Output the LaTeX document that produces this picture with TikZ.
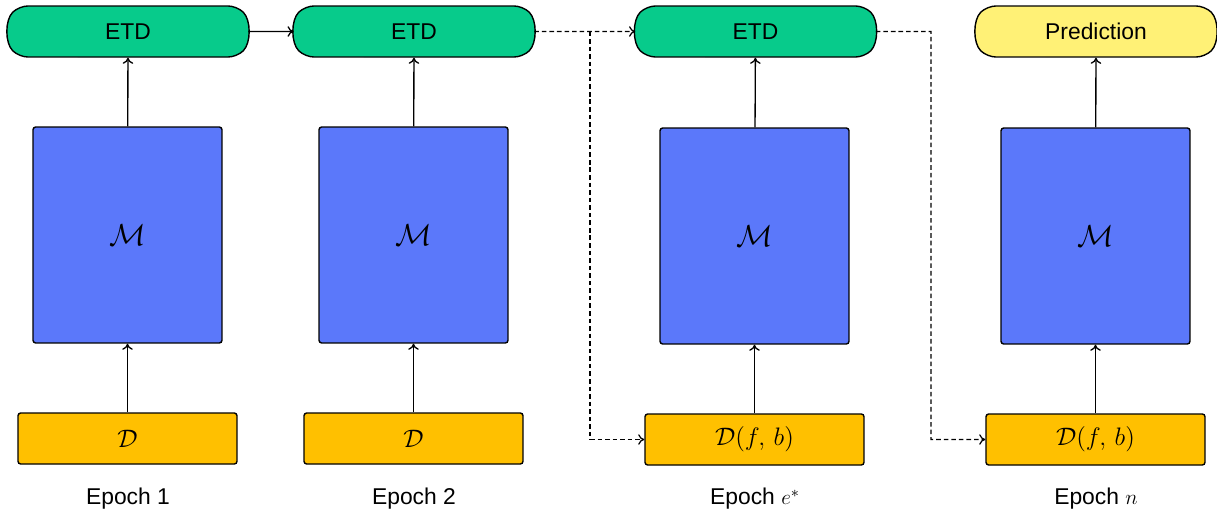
\documentclass[tikz,border=0pt]{standalone}
\usepackage{fontspec}
\setmainfont{Liberation Sans}
\usetikzlibrary{shapes.misc,arrows.meta}

\definecolor{etdgreen}{HTML}{07CB8B}
\definecolor{predyellow}{HTML}{FFF176}
\definecolor{modelblue}{HTML}{5B78FA}
\definecolor{dataorange}{HTML}{FFC000}

\begin{document}
\begin{tikzpicture}
        [x=0.02cm,y=-0.02cm,>={To[length=3.5pt,width=6pt]},
         every node/.style={font=\fontsize{13}{15}\selectfont},
         etd/.style={rounded rectangle,rounded rectangle arc length=90,draw,rounded corners=5pt,
           line width=0.8pt,fill=etdgreen,minimum width=5.02cm,minimum height=1.02cm},
         model/.style={draw,line width=0.8pt,fill=modelblue,rounded corners=1.5pt,
           minimum width=3.78cm,minimum height=4.32cm,font=\fontsize{17}{20}\selectfont},
         data/.style={draw,line width=0.8pt,fill=dataorange,rounded corners=1.5pt,
           minimum width=4.38cm,minimum height=1.02cm,font=\fontsize{15}{18}\selectfont},
         link/.style={->,line width=0.75pt,sharp corners},
         skip/.style={->,line width=0.7pt,sharp corners,dashed,dash pattern=on 2.6pt off 1.7pt}]
        \useasboundingbox (0,0) rectangle (1217,511);

        \node[etd] (etd1) at (128,31.5) {ETD};
        \node[etd] (etd2) at (414,31.5) {ETD};
        \node[etd] (etd3) at (755.5,31.5) {ETD};
        \node[etd,fill=predyellow] (pred) at (1096,31.5) {Prediction};

        \node[model] (m1) at (127.5,235) {$\mathcal{M}$};
        \node[model] (m2) at (413.5,235) {$\mathcal{M}$};
        \node[model] (m3) at (754.5,236) {$\mathcal{M}$};
        \node[model] (m4) at (1095.5,236) {$\mathcal{M}$};

        \node[data] (d1) at (127.5,438.5) {$\mathcal{D}$};
        \node[data] (d2) at (413.5,438.5) {$\mathcal{D}$};
        \node[data] (d3) at (754.5,439.5) {$\mathcal{D}(f,\,b)$};
        \node[data] (d4) at (1095.5,439.5) {$\mathcal{D}(f,\,b)$};

        \node (ep1) at (128,499) {Epoch 1};
        \node (ep2) at (414,499) {Epoch 2};
        \node (ep3) at (755,499) {Epoch $e^{*}$};
        \node (ep4) at (1096,499) {Epoch $n$};

        \coordinate (split1) at (590,31.5);
        \coordinate (split2) at (931,31.5);

        % data -> model -> ETD
        \draw[link] (d1) -- (m1);
        \draw[link] (m1) -- (etd1);
        \draw[link] (d2) -- (m2);
        \draw[link] (m2) -- (etd2);
        \draw[link] (d3) -- (m3);
        \draw[link] (m3) -- (etd3);
        \draw[link] (d4) -- (m4);
        \draw[link] (m4) -- (pred);

        \draw[link] (etd1) -- (etd2);
        \draw[skip] (etd2) -- (etd3);
        \draw[skip] (split1) |- (d3);
        \draw[skip] (etd3) -- (split2) |- (d4);
\end{tikzpicture}
\end{document}
